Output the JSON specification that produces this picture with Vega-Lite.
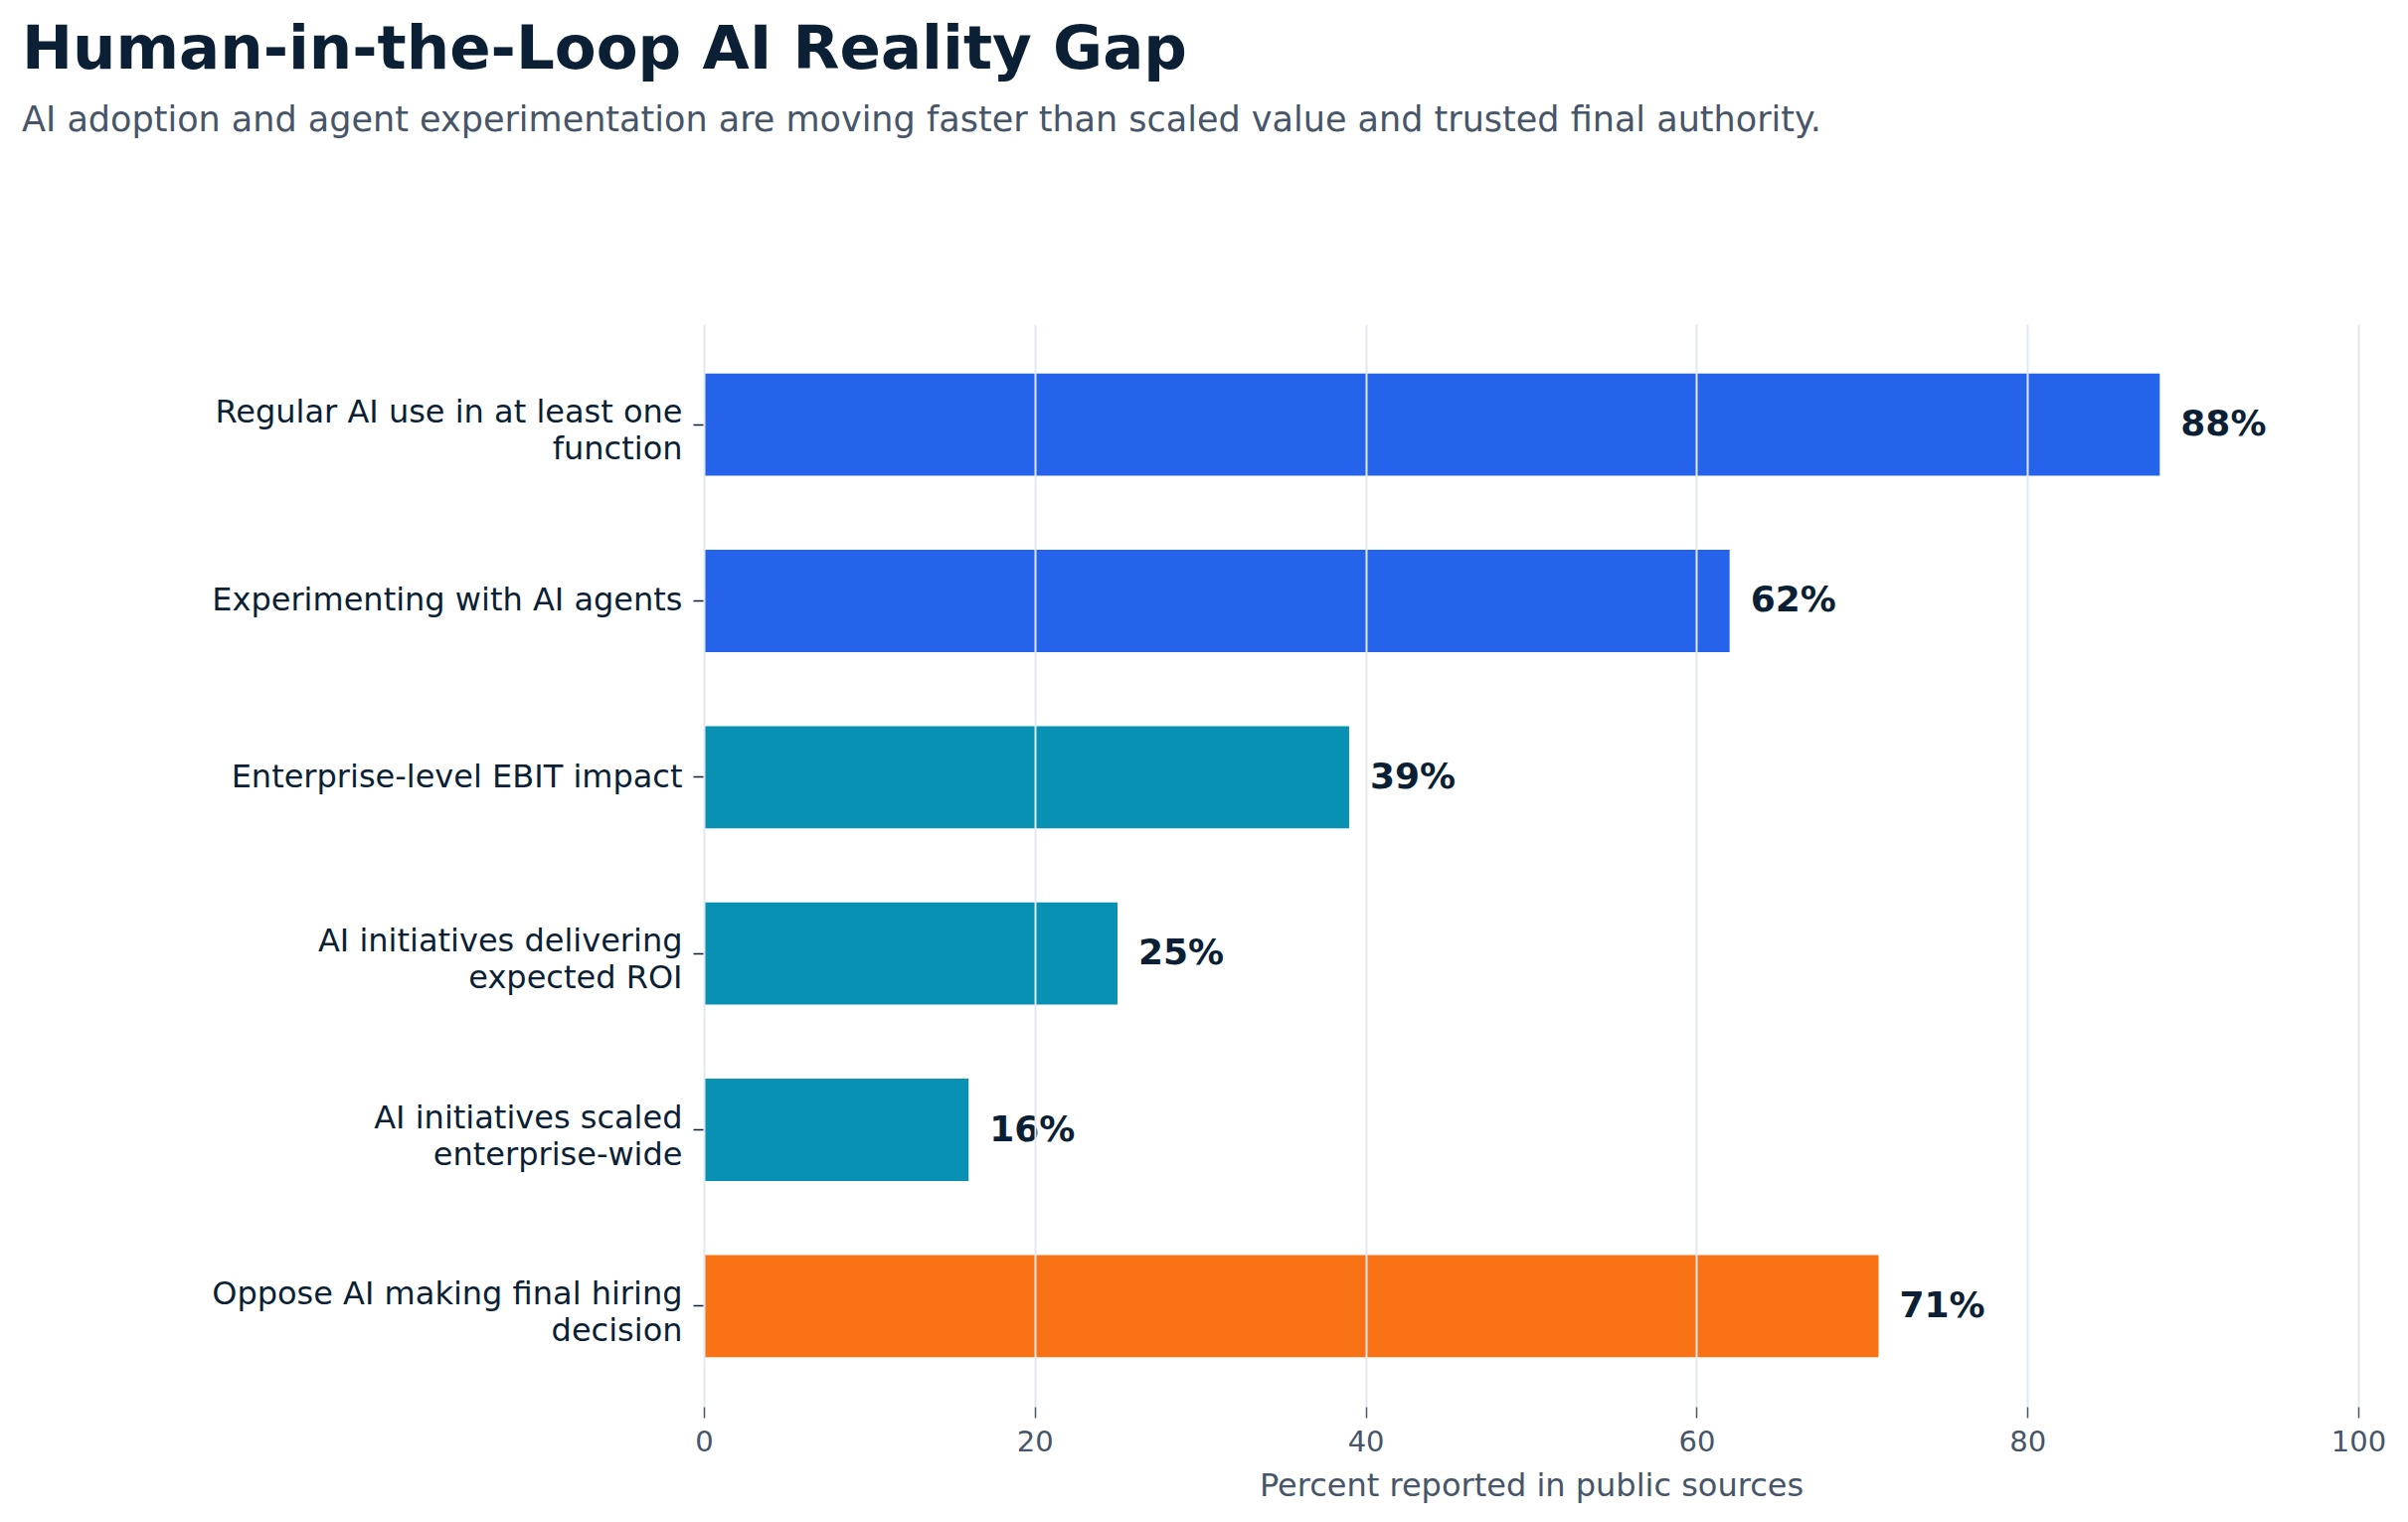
{
  "$schema": "https://vega.github.io/schema/vega-lite/v6.json",
  "width": 1664,
  "height": 1089,
  "autosize": {"type": "none"},
  "padding": {"left": 708, "top": 326, "right": 50, "bottom": 116},
  "background": "white",
  "config": {
    "font": "DejaVu Sans",
    "view": {"stroke": null}
  },
  "title": {
    "text": "Human-in-the-Loop AI Reality Gap",
    "subtitle": "AI adoption and agent experimentation are moving faster than scaled value and trusted final authority.",
    "anchor": "start",
    "frame": "group",
    "dx": -686,
    "offset": 186,
    "font": "DejaVu Sans",
    "fontSize": 61,
    "fontWeight": "bold",
    "color": "#0b1f35",
    "subtitleFont": "DejaVu Sans",
    "subtitleFontSize": 35,
    "subtitleColor": "#475569",
    "subtitlePadding": 22
  },
  "data": {
    "values": [
      {"metric": "Regular AI use in at least one\nfunction", "value": 88, "group": "adoption"},
      {"metric": "Experimenting with AI agents", "value": 62, "group": "adoption"},
      {"metric": "Enterprise-level EBIT impact", "value": 39, "group": "value"},
      {"metric": "AI initiatives delivering\nexpected ROI", "value": 25, "group": "value"},
      {"metric": "AI initiatives scaled\nenterprise-wide", "value": 16, "group": "value"},
      {"metric": "Oppose AI making final hiring\ndecision", "value": 71, "group": "trust"}
    ]
  },
  "transform": [{"calculate": "datum.value + '%'", "as": "label"}],
  "encoding": {
    "y": {
      "field": "metric",
      "type": "nominal",
      "sort": null,
      "scale": {"paddingInner": 0.42, "paddingOuter": 0.28},
      "axis": {
        "title": null,
        "domain": false,
        "ticks": true,
        "tickSize": 11,
        "tickColor": "#0b1f35",
        "tickWidth": 1.5,
        "labelPadding": 11,
        "labelFontSize": 32,
        "labelColor": "#0b1f35",
        "labelLineHeight": 37,
        "labelLimit": 0,
        "labelExpr": "split(datum.value, '\\n')",
        "labelOffset": {"expr": "indexof(datum.value, '\\n') >= 0 ? -12 : 0"},
        "grid": false
      }
    },
    "x": {
      "field": "value",
      "type": "quantitative",
      "scale": {"domain": [0, 100], "nice": false},
      "axis": {
        "title": "Percent reported in public sources",
        "titleFontSize": 32,
        "titleFontWeight": "normal",
        "titleColor": "#475569",
        "titlePadding": 14,
        "values": [0, 20, 40, 60, 80, 100],
        "domain": false,
        "tickSize": 11,
        "tickColor": "#475569",
        "tickWidth": 1.5,
        "labelFontSize": 29,
        "labelColor": "#475569",
        "labelPadding": 10,
        "labelFlush": false,
        "grid": true,
        "gridColor": "#e2e8f0",
        "gridWidth": 2,
        "zindex": 1
      }
    }
  },
  "layer": [
    {
      "mark": {"type": "bar"},
      "encoding": {
        "color": {
          "field": "group",
          "type": "nominal",
          "scale": {"domain": ["adoption", "value", "trust"], "range": ["#2563eb", "#0891b2", "#f97316"]},
          "legend": null
        }
      }
    },
    {
      "mark": {"type": "text", "align": "left", "baseline": "middle", "dx": 21, "fontSize": 36, "fontWeight": "bold", "color": "#0b1f35"},
      "encoding": {"text": {"field": "label"}}
    }
  ]
}
